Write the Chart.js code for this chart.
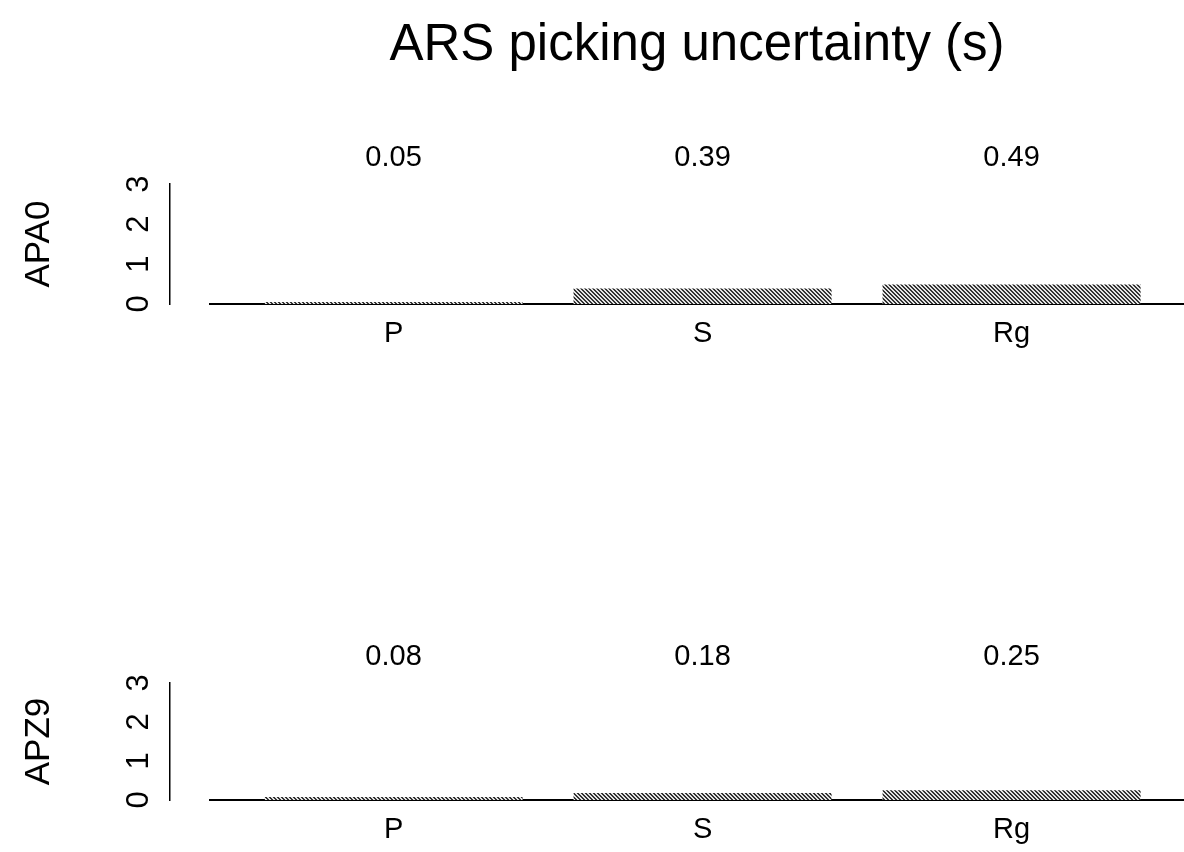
<!DOCTYPE html>
<html>
<head>
<meta charset="utf-8">
<script src="https://cdn.jsdelivr.net/npm/chart.js@4.4.1/dist/chart.umd.min.js"></script>
<style>
  html, body { margin: 0; padding: 0; background: #fff; }
  .panel { position: absolute; left: 0; width: 1184px; }
</style>
</head>
<body>
<div class="panel" style="top:0;height:420px"><canvas id="apa0Canvas"></canvas></div>
<div class="panel" style="top:420px;height:432px"><canvas id="apz9Canvas"></canvas></div>
<script>
const phases = ['P', 'S', 'Rg'];
const apa0Values = [0.05, 0.39, 0.49];
const apz9Values = [0.08, 0.18, 0.25];
const yTicks = [0, 1, 2, 3];

const FONT = "'Liberation Sans', Arial, Helvetica, sans-serif";
Chart.defaults.font.family = FONT;
Chart.defaults.color = '#000';

// grey diagonal hatch like the scanned bars
function hatchFill() {
    const c = document.createElement('canvas');
    c.width = 4; c.height = 4;
    const g = c.getContext('2d');
    g.fillStyle = '#e4e4e4';
    g.fillRect(0, 0, 4, 4);
    g.fillStyle = '#333';
    for (let i = 0; i < 4; i++) {
        g.fillRect(i, i, 1, 1);
        g.fillRect((i + 1) % 4, i, 1, 1);
    }
    return g.createPattern(c, 'repeat');
}

const X_MIN = -0.594, X_MAX = 2.558;
const phaseTicks = s => { s.ticks = phases.map((p, i) => ({ value: i })); };

function makePanel(canvasId, station, values, cfg) {
    return new Chart(document.getElementById(canvasId), {
        type: 'bar',
        data: {
            datasets: [{
                label: station,
                data: values.map((v, i) => ({ x: i, y: v })),
                backgroundColor: hatchFill(),
                borderWidth: 0,
                categoryPercentage: 1,
                barPercentage: 0.835
            }]
        },
        options: {
            responsive: true,
            maintainAspectRatio: false,
            animation: false,
            layout: { padding: { top: cfg.padTop, left: 0, right: 0, bottom: 0 } },
            plugins: {
                legend: { display: false },
                tooltip: { enabled: false },
                title: {
                    display: cfg.showTitle,
                    text: 'ARS picking uncertainty (s)',
                    fullSize: false,
                    font: { size: 51, weight: 'normal' },
                    color: '#000',
                    padding: { top: 15, bottom: 58 }
                }
            },
            scales: {
                x: {
                    type: 'linear',
                    position: 'bottom',
                    offset: false,
                    min: X_MIN,
                    max: X_MAX,
                    afterBuildTicks: phaseTicks,
                    ticks: {
                        callback: v => phases[v],
                        font: { size: 29 },
                        padding: 13,
                        maxRotation: 0,
                        autoSkip: false
                    },
                    grid: { display: false, drawTicks: false, offset: false },
                    border: { display: true, color: '#000', width: 2 },
                    afterFit: s => { s.height = cfg.bottomH; }
                },
                xv: {
                    type: 'linear',
                    position: 'top',
                    offset: false,
                    min: X_MIN,
                    max: X_MAX,
                    afterBuildTicks: phaseTicks,
                    ticks: {
                        callback: v => values[v].toFixed(2),
                        font: { size: 29 },
                        padding: 9,
                        maxRotation: 0,
                        autoSkip: false
                    },
                    grid: { display: false, drawTicks: false },
                    border: { display: false },
                    afterFit: s => { s.height = 50; }
                },
                y: {
                    position: 'left',
                    weight: 1,
                    min: 0,
                    max: 3,
                    afterBuildTicks: s => { s.ticks = yTicks.map(v => ({ value: v })); },
                    ticks: {
                        minRotation: 90,
                        maxRotation: 90,
                        crossAlign: 'center',
                        font: { size: 31 },
                        padding: 22
                    },
                    grid: { display: false, drawTicks: false },
                    border: { display: true, color: '#000', width: 1.5 },
                    title: {
                        display: true,
                        text: station,
                        font: { size: 35 },
                        color: '#000',
                        padding: { top: 18, bottom: 0 }
                    },
                    afterFit: s => { s.width = 170; }
                },
                gap: {
                    type: 'linear',
                    position: 'left',
                    weight: 0,
                    ticks: { display: false },
                    grid: { display: false, drawTicks: false },
                    border: { display: false },
                    afterFit: s => { s.width = 40; }
                }
            }
        }
    });
}

makePanel('apa0Canvas', 'APA0', apa0Values, { padTop: 0, showTitle: true, bottomH: 116 });
makePanel('apz9Canvas', 'APZ9', apz9Values, { padTop: 213, showTitle: false, bottomH: 52 });
</script>
</body>
</html>
